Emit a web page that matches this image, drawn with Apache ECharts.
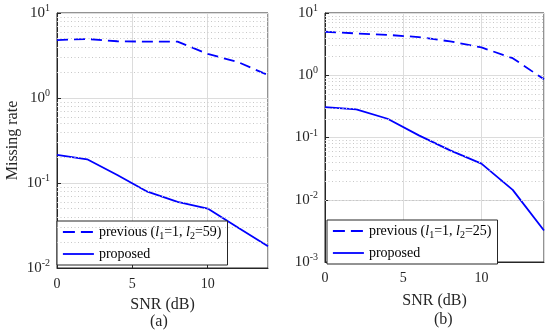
<!DOCTYPE html>
<html>
<head>
<meta charset="utf-8">
<script src="https://cdn.jsdelivr.net/npm/echarts@6/dist/echarts.min.js"></script>
<style>html,body{margin:0;padding:0;background:#fff;}#c{width:550px;height:334px;}</style>
</head>
<body>
<div id="c"></div>
<script>
// SNR (dB)
var snr = [0, 2, 4, 6, 8, 10, 12, 14];
// (a) previous (l1=1, l2=59) and proposed
var prevA = [4.8, 4.95, 4.65, 4.6, 4.6, 3.3, 2.65, 1.86];
var propA = [0.214, 0.19, 0.124, 0.079, 0.06, 0.05, 0.03, 0.018];
// (b) previous (l1=1, l2=25) and proposed
var prevB = [5.0, 4.7, 4.45, 4.1, 3.5, 2.8, 1.88, 0.86];
var propB = [0.308, 0.283, 0.2, 0.108, 0.062, 0.038, 0.0144, 0.0032];
// axis ranges
var yMinA = 0.01, yMaxA = 10;
var yMinB = 0.001, yMaxB = 10;
var xMin = 0, xMax = 14, xStep = 5;

var FONT = 'Liberation Serif';
var AXC = '#262626';

function pairs(xs, ys) { return xs.map(function (x, i) { return [x, ys[i]]; }); }
function minorVals(lo, hi) {
  var out = [];
  for (var k = Math.round(Math.log10(lo)); k < Math.round(Math.log10(hi)); k++) {
    for (var m = 2; m <= 9; m++) out.push({ yAxis: m * Math.pow(10, k) });
  }
  return out;
}
function yLab(v) {
  var e = Math.round(Math.log10(v));
  return '10{s|' + e + '}';
}
function xAxisCfg(idx, gap) {
  return {
    gridIndex: idx, type: 'value', min: xMin, max: xMax, interval: xStep,
    name: 'SNR (dB)', nameLocation: 'middle', nameGap: gap,
    nameTextStyle: { fontFamily: FONT, fontSize: 16, color: AXC },
    axisLine: { show: true, lineStyle: { color: AXC, width: 1 } },
    axisTick: { show: true, inside: true, length: 4, lineStyle: { color: AXC } },
    axisLabel: { fontFamily: FONT, fontSize: 14, color: AXC, margin: 9, showMaxLabel: false },
    splitLine: { show: true, lineStyle: { color: '#dcdcdc', width: 1 } }
  };
}
function yAxisCfg(idx, lo, hi, withName) {
  var c = {
    gridIndex: idx, type: 'log', logBase: 10, min: lo, max: hi,
    axisLine: { show: true, lineStyle: { color: AXC, width: 1 } },
    axisTick: { show: true, inside: true, length: 4, lineStyle: { color: AXC } },
    axisLabel: {
      fontFamily: FONT, fontSize: 15, color: AXC, margin: 7, formatter: yLab,
      rich: { s: { fontFamily: FONT, fontSize: 10, color: AXC, padding: [0, 0, 9, 0] } }
    },
    splitLine: { show: true, lineStyle: { color: '#dcdcdc', width: 1 } }
  };
  if (withName) {
    c.name = 'Missing rate'; c.nameLocation = 'middle'; c.nameGap = 36;
    c.nameTextStyle = { fontFamily: FONT, fontSize: 16, color: AXC };
  }
  return c;
}
function minorSeries(idx, lo, hi) {
  return {
    type: 'line', xAxisIndex: idx, yAxisIndex: idx, data: [], z: 1, silent: true,
    markLine: {
      silent: true, symbol: ['none', 'none'], label: { show: false },
      lineStyle: { color: '#c8c8c8', type: [1, 2.5], width: 1 },
      emphasis: { disabled: true },
      data: minorVals(lo, hi), animation: false
    }
  };
}
function dataSeries(name, idx, ys, dashed) {
  return {
    name: name, type: 'line', xAxisIndex: idx, yAxisIndex: idx,
    data: pairs(snr, ys), symbol: 'none', showSymbol: false, z: 3,
    lineStyle: { color: '#0000ff', width: 1.8, type: dashed ? [11, 6] : 'solid' },
    itemStyle: { color: '#0000ff' }
  };
}
var legendNames = {
  prevA: 'previous ({i|l}{s|1}=1, {i|l}{s|2}=59)',
  propA: 'proposed',
  prevB: 'previous ({i|l}{s|1}=1, {i|l}{s|2}=25)',
  propB: 'proposed'
};
function legendCfg(names, left, top) {
  return {
    data: [
      { name: names[0], lineStyle: { type: [12, 6], width: 1.8, color: '#0000ff' } },
      { name: names[1], lineStyle: { type: 'solid', width: 1.8, color: '#0000ff' } }
    ],
    orient: 'vertical', left: left, top: top,
    padding: [4, 6, 4, 5], itemGap: 6, itemWidth: 31, itemHeight: 14,
    backgroundColor: '#fff', borderColor: AXC, borderWidth: 1, borderRadius: 0,
    selectedMode: false,
    itemStyle: { color: 'rgba(0,0,0,0)', borderColor: 'rgba(0,0,0,0)', borderWidth: 0 },
    formatter: function (n) { return legendNames[n]; },
    textStyle: {
      fontFamily: FONT, fontSize: 14, color: '#000',
      rich: {
        i: { fontFamily: FONT, fontSize: 14, fontStyle: 'italic', color: '#000' },
        s: { fontFamily: FONT, fontSize: 10, color: '#000', padding: [8, 0, 0, 0] }
      }
    }
  };
}

var chart = echarts.init(document.getElementById('c'), null, { renderer: 'canvas' });
chart.setOption({
  animation: false,
  backgroundColor: '#fff',
  grid: [
    { left: 57, top: 13, width: 211, height: 255, show: true, borderColor: AXC, borderWidth: 1, backgroundColor: 'transparent' },
    { left: 325, top: 13, width: 219, height: 249, show: true, borderColor: AXC, borderWidth: 1, backgroundColor: 'transparent' }
  ],
  xAxis: [xAxisCfg(0, 29), xAxisCfg(1, 31)],
  yAxis: [yAxisCfg(0, yMinA, yMaxA, true), yAxisCfg(1, yMinB, yMaxB, false)],
  legend: [legendCfg(['prevA', 'propA'], 57, 221), legendCfg(['prevB', 'propB'], 327, 220)],
  series: [
    minorSeries(0, yMinA, yMaxA),
    minorSeries(1, yMinB, yMaxB),
    dataSeries('prevA', 0, prevA, true),
    dataSeries('propA', 0, propA, false),
    dataSeries('prevB', 1, prevB, true),
    dataSeries('propB', 1, propB, false)
  ],
  graphic: [
    { type: 'text', left: 150, top: 314, style: { text: '(a)', font: '16px "Liberation Serif"', fill: AXC } },
    { type: 'text', left: 434, top: 312, style: { text: '(b)', font: '16px "Liberation Serif"', fill: AXC } }
  ]
});
</script>
</body>
</html>
